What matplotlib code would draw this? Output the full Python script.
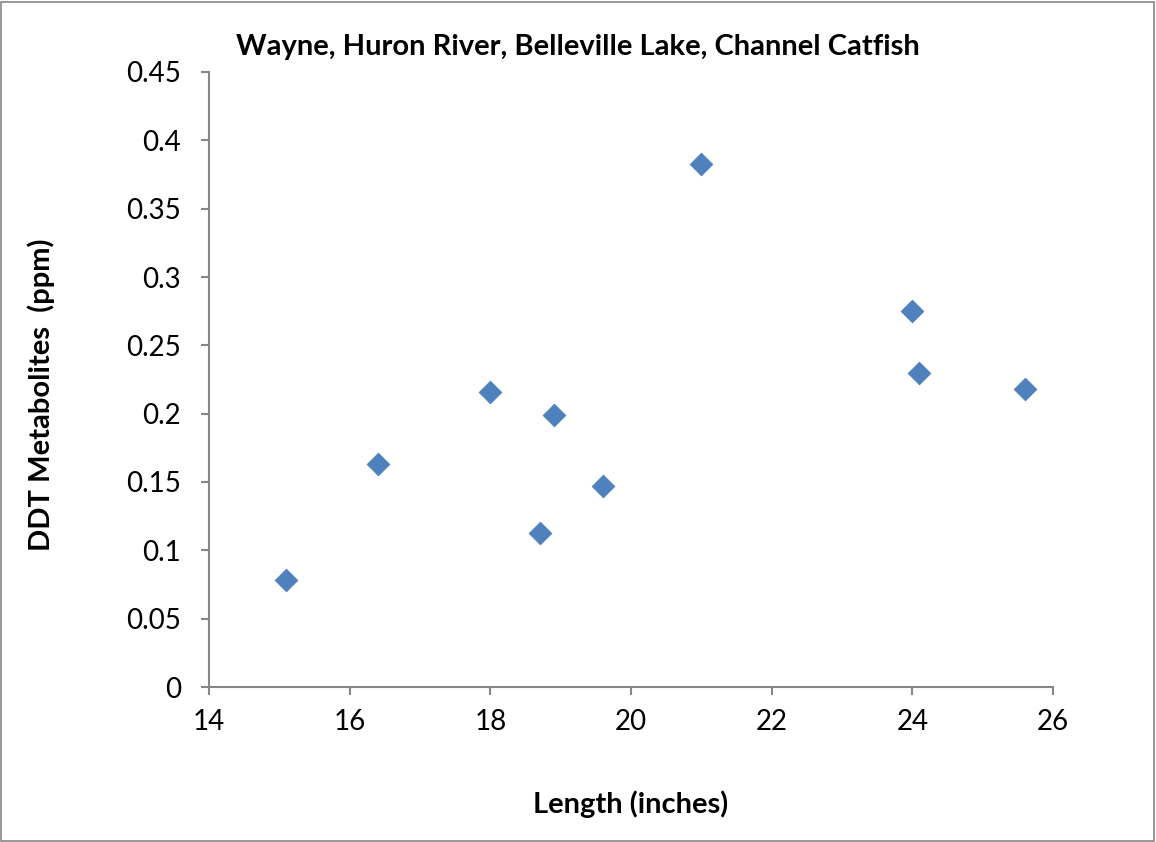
import matplotlib.pyplot as plt
from matplotlib.patches import Rectangle

# data
length = [15.1, 16.4, 18.0, 18.7, 18.9, 19.6, 21.0, 24.0, 24.1, 25.6]
ddt = [0.078, 0.163, 0.216, 0.113, 0.199, 0.147, 0.383, 0.275, 0.230, 0.218]

x_ticks = [14, 16, 18, 20, 22, 24, 26]
y_ticks = [0, 0.05, 0.1, 0.15, 0.2, 0.25, 0.3, 0.35, 0.4, 0.45]
y_labels = ["0", "0.05", "0.1", "0.15", "0.2", "0.25", "0.3", "0.35", "0.4", "0.45"]

plt.rcParams['font.family'] = ['Lato', 'DejaVu Sans']

fig = plt.figure(figsize=(11.56, 8.42), dpi=100)
ax = fig.add_axes([209/1156, 155/842, 844/1156, 615/842])

ax.scatter(length, ddt, marker='D', s=135, color='#4F81BD', edgecolors='#4A7EBB',
           linewidths=0.5, zorder=3)

ax.set_xlim(14, 26)
ax.set_ylim(0, 0.45)
ax.set_xticks(x_ticks)
ax.set_yticks(y_ticks)
ax.set_yticklabels(y_labels)

gray = '#868686'
for side in ['top', 'right']:
    ax.spines[side].set_visible(False)
for side in ['left', 'bottom']:
    ax.spines[side].set_color(gray)
    ax.spines[side].set_linewidth(1.5)
ax.tick_params(direction='out', length=6, width=1.5, color=gray, labelsize=20)
ax.tick_params(axis='y', pad=14)
ax.tick_params(axis='x', pad=10)

ax.set_xlabel("Length (inches)", fontsize=21, fontweight='bold', labelpad=40)
ax.set_ylabel("DDT Metabolites  (ppm)", fontsize=21, fontweight='bold')
ax.yaxis.set_label_coords(-0.183, 0.475)
fig.text(0.5, 1 - 47/842, "Wayne, Huron River, Belleville Lake, Channel Catfish",
         ha='center', va='center', fontsize=21, fontweight='bold')

# outer chart border
fig.patches.append(Rectangle((0.001, 0.001), 0.997, 0.997, transform=fig.transFigure,
                             fill=False, edgecolor=gray, linewidth=1.2))

fig.savefig("out.png", dpi=100)
